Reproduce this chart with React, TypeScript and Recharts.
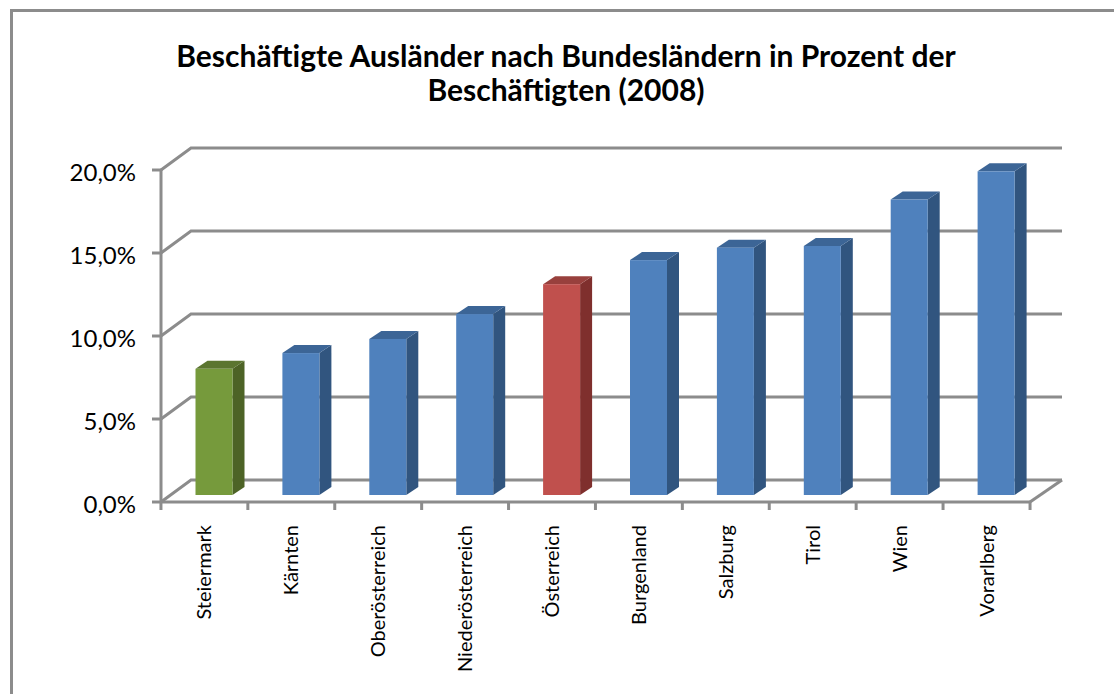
import { BarChart, Bar, XAxis, YAxis, CartesianGrid } from "recharts";

const categories = [
  "Steiermark",
  "Kärnten",
  "Oberösterreich",
  "Niederösterreich",
  "Österreich",
  "Burgenland",
  "Salzburg",
  "Tirol",
  "Wien",
  "Vorarlberg",
];
const shares = [7.6, 8.55, 9.4, 10.9, 12.7, 14.15, 14.9, 15.0, 17.8, 19.5];
const yTicks = [0, 5, 10, 15, 20];
const titleLines = [
  "Beschäftigte Ausländer nach Bundesländern in Prozent der",
  "Beschäftigten (2008)",
];

const faceColors: Record<string, { front: string; side: string; top: string }> = {
  Steiermark: { front: "#769a3c", side: "#4d6326", top: "#5b7530" },
  Österreich: { front: "#c0504d", side: "#7f2f2d", top: "#98403d" },
};
const blueFace = { front: "#4f81bd", side: "#31557f", top: "#3c6596" };

const data = categories.map((name, i) => ({ name, value: shares[i] }));

const FONT = "Lato, Carlito, sans-serif";
const AXIS_GRAY = "#8c8c8c";
const BAND = 87;

// fake 3d: how far the back wall sits from the front axis plane
const WALL_DX = 30;
const WALL_DY = -22;

const Bar3D = (props: any) => {
  const { x, y, width, height, payload } = props;
  const c = faceColors[payload.name] || blueFace;
  const left = x + 9.5;
  const top = y - 7;
  const right = left + width;
  const bottom = top + height;
  const dx = 12;
  const dy = -8;
  return (
    <g>
      <polygon
        points={`${right},${top} ${right + dx},${top + dy} ${right + dx},${bottom + dy} ${right},${bottom}`}
        fill={c.side}
      />
      <polygon
        points={`${left},${top} ${left + dx},${top + dy} ${right + dx},${top + dy} ${right},${top}`}
        fill={c.top}
      />
      <rect x={left} y={top} width={width} height={height} fill={c.front} />
    </g>
  );
};

const GridLine = (props: any) => {
  const { x1, x2, y1 } = props;
  return (
    <g fill="none" stroke={AXIS_GRAY} strokeWidth={3}>
      <polyline
        points={`${x1},${y1} ${x1 + WALL_DX},${y1 + WALL_DY} ${x2 + WALL_DX + 2},${y1 + WALL_DY}`}
      />
      {/* floor edge on the right, only for the 0% line */}
      {y1 > 490 && <line x1={x2} y1={y1} x2={x2 + WALL_DX + 2} y2={y1 + WALL_DY} />}
    </g>
  );
};

const CategoryTick = (props: any) => {
  const { x, y, payload, index } = props;
  const tickLeft = x - BAND / 2;
  const tickRight = x + BAND / 2;
  return (
    <g>
      <line x1={tickLeft} y1={y - 8} x2={tickLeft} y2={y} stroke={AXIS_GRAY} strokeWidth={3} />
      {index === categories.length - 1 && (
        <line x1={tickRight} y1={y - 8} x2={tickRight} y2={y} stroke={AXIS_GRAY} strokeWidth={3} />
      )}
      <text
        x={x + 7}
        y={y + 15}
        transform={`rotate(-90 ${x + 7} ${y + 15})`}
        textAnchor="end"
        fontSize={20}
        fontFamily={FONT}
        fill="#000"
      >
        {payload.value}
      </text>
    </g>
  );
};

export default function App() {
  return (
    <div
      style={{
        position: "absolute",
        left: 0,
        top: 0,
        width: 1114,
        height: 694,
        background: "#fff",
        fontFamily: FONT,
      }}
    >
      <div
        style={{
          position: "absolute",
          left: 10,
          top: 9,
          width: 1104,
          height: 685,
          borderLeft: "3px solid #8c8c8c",
          borderTop: "3px solid #8c8c8c",
          boxSizing: "border-box",
        }}
      />
      <div
        style={{
          position: "absolute",
          left: 0,
          top: 38,
          width: 1132,
          textAlign: "center",
          fontSize: 30,
          lineHeight: "34px",
          fontWeight: 700,
          color: "#000",
        }}
      >
        {titleLines.map((line) => (
          <div key={line}>{line}</div>
        ))}
      </div>
      <div style={{ position: "absolute", left: 0, top: 0 }}>
        <BarChart
          width={1114}
          height={694}
          data={data}
          barSize={37}
          margin={{ top: 170, right: 84, bottom: 0, left: 0 }}
        >
          <CartesianGrid vertical={false} horizontal={(p: any) => <GridLine {...p} />} />
          <XAxis
            dataKey="name"
            height={192}
            interval={0}
            tickLine={false}
            axisLine={{ stroke: AXIS_GRAY, strokeWidth: 3 }}
            tick={(p: any) => <CategoryTick {...p} />}
          />
          <YAxis
            width={161}
            domain={[0, 20]}
            ticks={yTicks}
            interval={0}
            tickSize={9}
            tickMargin={16}
            tickLine={{ stroke: AXIS_GRAY, strokeWidth: 3 }}
            axisLine={{ stroke: AXIS_GRAY, strokeWidth: 3 }}
            tick={{ fontSize: 24, fill: "#000", fontFamily: FONT, dy: 2 }}
            tickFormatter={(v: number) => `${v.toFixed(1).replace(".", ",")}%`}
          />
          <Bar dataKey="value" isAnimationActive={false} shape={(p: any) => <Bar3D {...p} />} />
        </BarChart>
      </div>
    </div>
  );
}
